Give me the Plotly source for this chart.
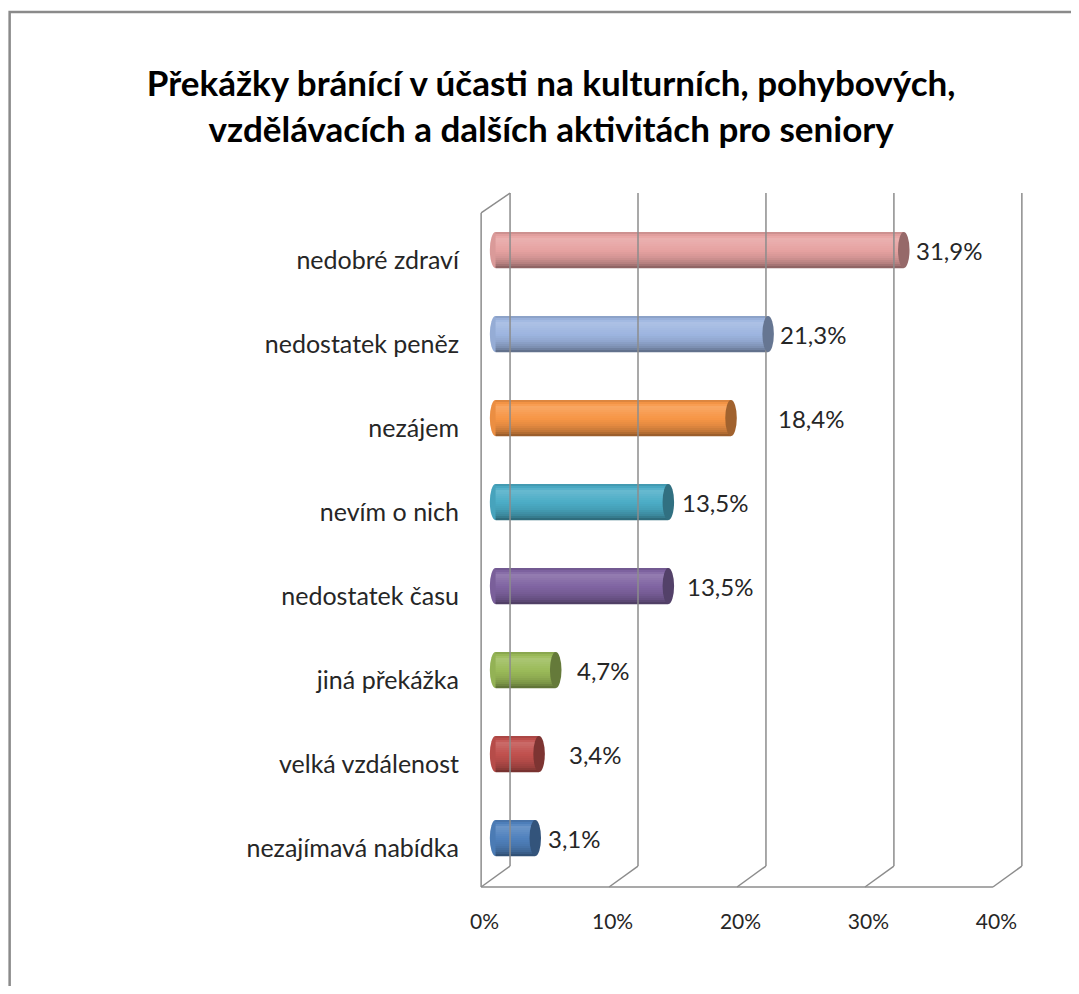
import plotly.graph_objects as go

# data (top to bottom, as in the picture)
kategorie = ['nedobré zdraví', 'nedostatek peněz', 'nezájem', 'nevím o nich',
             'nedostatek času', 'jiná překážka', 'velká vzdálenost', 'nezajímavá nabídka']
podil = [31.9, 21.3, 18.4, 13.5, 13.5, 4.7, 3.4, 3.1]
popisky = ['31,9%', '21,3%', '18,4%', '13,5%', '13,5%', '4,7%', '3,4%', '3,1%']
osa_x = [0, 10, 20, 30, 40]
osa_x_text = ['0%', '10%', '20%', '30%', '40%']

# styles
barvy = ['#E6A2A1', '#9DB5E0', '#F79646', '#4BACC6', '#8064A2', '#9BBB59', '#C0504D', '#4F81BD']
odsazeni_popisku = [4, 4, 39, 6, 11, 14, 22, 5]  # px mezi koncem valce a popiskem


def mix(hex_color, t):
    # t < 0 -> ztmavit, t > 0 -> zesvetlit
    r, g, b = (int(hex_color[i:i + 2], 16) for i in (1, 3, 5))
    c = 255 if t > 0 else 0
    t = abs(t)
    r, g, b = (round(v + (c - v) * t) for v in (r, g, b))
    return f'rgb({r},{g},{b})'


def profil(t):
    # svetlost valce napric (0 = horni hrana, 1 = spodni hrana)
    body = [(0.0, -0.15), (0.2, 0.16), (0.4, 0.05), (0.7, -0.08), (0.88, -0.22), (1.0, -0.42)]
    for (t0, v0), (t1, v1) in zip(body, body[1:]):
        if t0 <= t <= t1:
            return v0 + (v1 - v0) * (t - t0) / (t1 - t0)
    return 0


FONT = 'Lato'
TEXT = '#262626'
GRID = '#8C8C8C'
pozice = list(range(len(kategorie)))
sirka = 0.43
hl = sirka / 2
dx = 1.13  # posun hloubky 3D v jednotkach osy x
# 3D ram v paper souradnicich (zadni / predni rovina)
zadni_dno, predni_dno = 0.0208, -0.0104
zadni_vrch, predni_vrch = 1.0223, 0.9926

fig = go.Figure()

# valce: tenke pruhy s prechodem barvy
kroky = 18
for k in range(kroky):
    t = (k + 0.5) / kroky
    fig.add_trace(go.Bar(x=podil, y=pozice, orientation='h', width=sirka / kroky + 0.002,
                         offset=-hl + k * sirka / kroky,
                         marker=dict(color=[mix(c, profil(t)) for c in barvy], line=dict(width=0)),
                         hoverinfo='skip'))

shapes = []
# 3D ram: zadni stena, podlaha, leva stena
for v in osa_x:
    shapes.append(dict(type='line', xref='x', yref='paper', x0=v + dx, x1=v + dx,
                       y0=zadni_dno, y1=zadni_vrch, line=dict(color=GRID, width=1.5)))
    shapes.append(dict(type='line', xref='x', yref='paper', x0=v + dx, x1=v - dx,
                       y0=zadni_dno, y1=predni_dno, line=dict(color=GRID, width=1.5)))
shapes.append(dict(type='line', xref='x', yref='paper', x0=-dx, x1=osa_x[-1] - dx,
                   y0=predni_dno, y1=predni_dno, line=dict(color=GRID, width=1.5)))
shapes.append(dict(type='line', xref='x', yref='paper', x0=-dx, x1=-dx,
                   y0=predni_dno, y1=predni_vrch, line=dict(color=GRID, width=1.5)))
shapes.append(dict(type='line', xref='x', yref='paper', x0=-dx, x1=dx,
                   y0=predni_vrch, y1=zadni_vrch, line=dict(color=GRID, width=1.5)))

# zakonceni valcu (elipsy)
for i, v in enumerate(podil):
    shapes.append(dict(type='circle', xref='x', yref='y', x0=-0.45, x1=0.45,
                       y0=i - hl, y1=i + hl, fillcolor=mix(barvy[i], -0.05),
                       line=dict(width=0), layer='below'))
    shapes.append(dict(type='circle', xref='x', yref='y', x0=v - 0.45, x1=v + 0.45,
                       y0=i - hl, y1=i + hl, fillcolor=mix(barvy[i], -0.35),
                       line=dict(width=0)))

# vnejsi ramecek
shapes.append(dict(type='rect', xref='paper', yref='paper', x0=-0.8177, x1=1.2, y0=-0.3, y1=1.2917,
                   line=dict(color='#8A8A8A', width=2.5), fillcolor='rgba(0,0,0,0)', layer='below'))

annotations = []
for i, v in enumerate(podil):
    annotations.append(dict(x=v + 0.45, y=i, xref='x', yref='y', text=popisky[i],
                            showarrow=False, xanchor='left', xshift=odsazeni_popisku[i],
                            font=dict(family=FONT, size=24, color=TEXT)))

fig.update_layout(
    width=1063, height=978,
    margin=dict(l=462, r=38, t=200, b=106),
    paper_bgcolor='white', plot_bgcolor='rgba(0,0,0,0)',
    barmode='overlay', showlegend=False,
    title=dict(text='Překážky bránící v účasti na kulturních, pohybových,<br>'
                    'vzdělávacích a dalších aktivitách pro seniory',
               x=0.511, xanchor='center', y=0.91, yanchor='top',
               font=dict(family=FONT, size=35, color='black', weight='bold')),
    xaxis=dict(range=[-2, 42], tickvals=osa_x, ticktext=osa_x_text, showgrid=False,
               zeroline=False, showline=False, ticks='', ticklabelshift=-11,
               ticklabelstandoff=27, tickfont=dict(family=FONT, size=21, color=TEXT)),
    yaxis=dict(range=[len(kategorie) - 0.5, -0.5], tickvals=pozice, ticktext=kategorie,
               showgrid=False, zeroline=False, showline=False, ticks='',
               ticklabelstandoff=10, ticklabelshift=-10,
               tickfont=dict(family=FONT, size=25, color=TEXT)),
    shapes=shapes, annotations=annotations,
)

fig.write_html('out.html')
